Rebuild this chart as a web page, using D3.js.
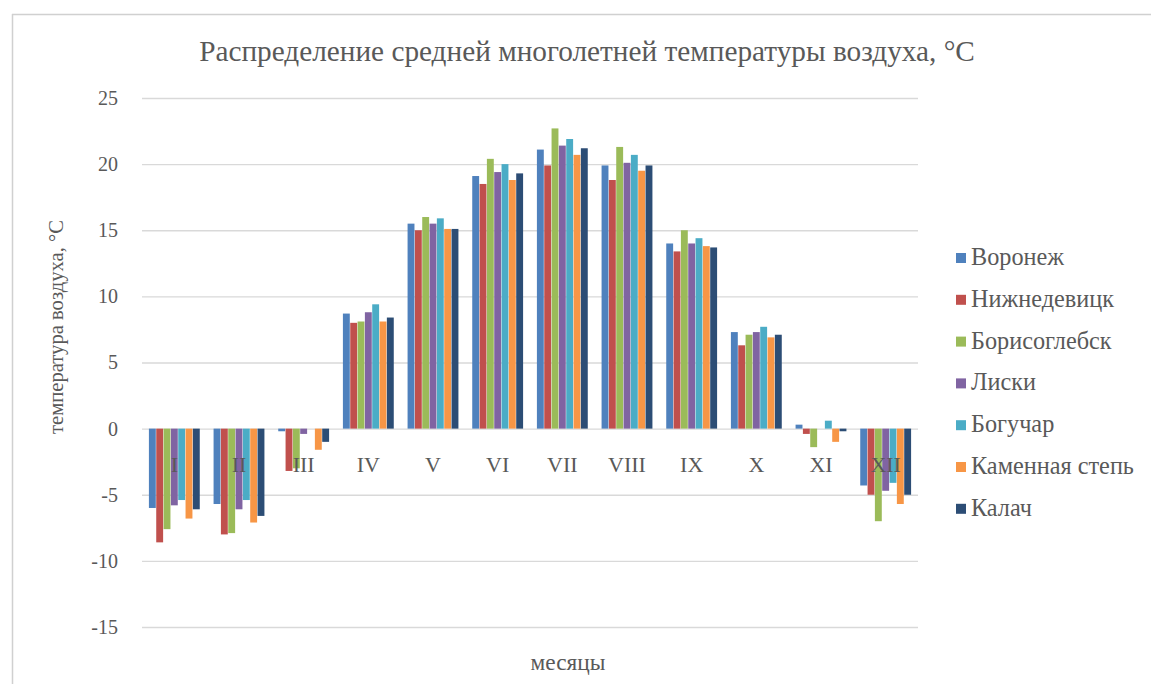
<!DOCTYPE html>
<html>
<head>
<meta charset="utf-8">
<script src="https://cdn.jsdelivr.net/npm/d3@7/dist/d3.min.js"></script>
<style>
  html, body { margin: 0; padding: 0; background: #fff; }
  svg { display: block; }
  svg text { font-family: 'Liberation Serif'; }
</style>
</head>
<body>
<svg id="chart" width="1151" height="684" font-family="Liberation Serif"></svg>
<script>
// Mean long-term monthly air temperature, °C
const months = ["I", "II", "III", "IV", "V", "VI", "VII", "VIII", "IX", "X", "XI", "XII"];
const stations = ["Воронеж", "Нижнедевицк", "Борисоглебск", "Лиски", "Богучар", "Каменная степь", "Калач"];

const voronezh      = [-6.0, -5.7, -0.2, 8.7, 15.5, 19.1, 21.1, 19.9, 14.0, 7.3,  0.3, -4.3];
const nizhnedevitsk = [-8.6, -8.0, -3.2, 8.0, 15.0, 18.5, 19.9, 18.8, 13.4, 6.3, -0.4, -5.0];
const borisoglebsk  = [-7.6, -7.9, -3.0, 8.1, 16.0, 20.4, 22.7, 21.3, 15.0, 7.1, -1.4, -7.0];
const liski         = [-5.8, -6.1, -0.4, 8.8, 15.5, 19.4, 21.4, 20.1, 14.0, 7.3,  0.0, -4.7];
const boguchar      = [-5.4, -5.4,  0.0, 9.4, 15.9, 20.0, 21.9, 20.7, 14.4, 7.7,  0.6, -4.1];
const kamennaya     = [-6.8, -7.1, -1.6, 8.1, 15.1, 18.8, 20.7, 19.5, 13.8, 6.9, -1.0, -5.7];
const kalach        = [-6.1, -6.6, -1.0, 8.4, 15.1, 19.3, 21.2, 19.9, 13.7, 7.1, -0.2, -5.0];

const yTicks = [-15, -10, -5, 0, 5, 10, 15, 20, 25];

const seriesValues = [voronezh, nizhnedevitsk, borisoglebsk, liski, boguchar, kamennaya, kalach];
const colors = ["#4F81BD", "#C0504D", "#9BBB59", "#8064A2", "#4BACC6", "#F79646", "#2C4D75"];

const FONT = "Liberation Serif";
const INK = "#595959";

const svg = d3.select("#chart");
const W = 1151, H = 684;
const plot = { left: 142, right: 918, top: 98, bottom: 627 };

svg.append("rect").attr("width", W).attr("height", H).attr("fill", "#fff");

// outer chart frame
svg.append("line").attr("x1", 12).attr("x2", W).attr("y1", 14.5).attr("y2", 14.5)
  .attr("stroke", "#d0d0d0").attr("stroke-width", 1.5);
svg.append("line").attr("x1", 12.5).attr("x2", 12.5).attr("y1", 14).attr("y2", H)
  .attr("stroke", "#d0d0d0").attr("stroke-width", 1.5);

const x0 = d3.scaleBand().domain(months).range([plot.left, plot.right])
  .paddingInner(0.2).paddingOuter(0.1);
const x1 = d3.scaleBand().domain(stations).range([0, x0.bandwidth()]).padding(0.06);
const y = d3.scaleLinear().domain([-15, 25]).range([plot.bottom, plot.top]);

// horizontal gridlines and value labels
const yAxis = d3.axisLeft(y).tickValues(yTicks).tickFormat(d => String(d))
  .tickSize(-(plot.right - plot.left)).tickPadding(24);
const gy = svg.append("g").attr("transform", `translate(${plot.left},0)`).call(yAxis)
  .attr("font-family", FONT);
gy.select(".domain").remove();
gy.selectAll(".tick line").attr("stroke", "#d9d9d9").attr("stroke-width", 1.3);
gy.selectAll(".tick text").attr("font-size", 20);

// bars
const rows = months.map((m, i) => ({
  month: m,
  vals: stations.map((s, j) => ({ station: s, value: seriesValues[j][i], color: colors[j] }))
}));
const groups = svg.append("g").selectAll("g").data(rows).join("g")
  .attr("transform", d => `translate(${x0(d.month)},0)`);
groups.selectAll("rect").data(d => d.vals).join("rect")
  .attr("x", d => x1(d.station))
  .attr("width", x1.bandwidth())
  .attr("y", d => Math.min(y(d.value), y(0)))
  .attr("height", d => Math.abs(y(d.value) - y(0)))
  .attr("fill", d => d.color);

// month labels just below the zero line
const xAxis = d3.axisBottom(x0).tickSize(0).tickPadding(28);
const gx = svg.append("g").attr("transform", `translate(0,${y(0)})`).call(xAxis)
  .attr("font-family", FONT);
gx.select(".domain").remove();
gx.selectAll(".tick text").attr("font-size", 22);

// scale a label's font so the text spans the given width
function fitText(sel, width, base) {
  sel.attr("font-size", base);
  const w = sel.node().getComputedTextLength();
  sel.attr("font-size", base * width / w);
  return sel;
}

// title
const title = svg.append("text").attr("x", 587).attr("y", 61).attr("text-anchor", "middle")
  .attr("font-family", FONT).attr("fill", INK)
  .text("Распределение средней многолетней температуры воздуха, °C");
fitText(title, 776, 25);

// axis titles
const yTitle = svg.append("text").attr("transform", "translate(63,327) rotate(-90)")
  .attr("text-anchor", "middle").attr("font-family", FONT).attr("fill", INK)
  .text("температура воздуха, °C");
fitText(yTitle, 214, 19);
const xTitle = svg.append("text").attr("x", 568).attr("y", 670).attr("text-anchor", "middle")
  .attr("font-family", FONT).attr("fill", INK).text("месяцы");
fitText(xTitle, 75, 20);

// legend
const legend = svg.append("g").attr("font-family", FONT).selectAll("g").data(stations).join("g")
  .attr("transform", (d, i) => `translate(956,${258 + i * 41.8})`);
legend.append("rect").attr("x", 0).attr("y", -5).attr("width", 10).attr("height", 10)
  .attr("fill", (d, i) => colors[i]);
const legendText = legend.append("text").attr("x", 15).attr("y", 7).text(d => d).attr("fill", INK);
legendText.attr("font-size", 21);
const longest = d3.max(legendText.nodes(), n => n.getComputedTextLength());
legendText.attr("font-size", 21 * 163 / longest);

// one typeface for every label
svg.selectAll("text").attr("font-family", FONT).style("font-family", FONT).attr("fill", INK);
</script>
</body>
</html>
